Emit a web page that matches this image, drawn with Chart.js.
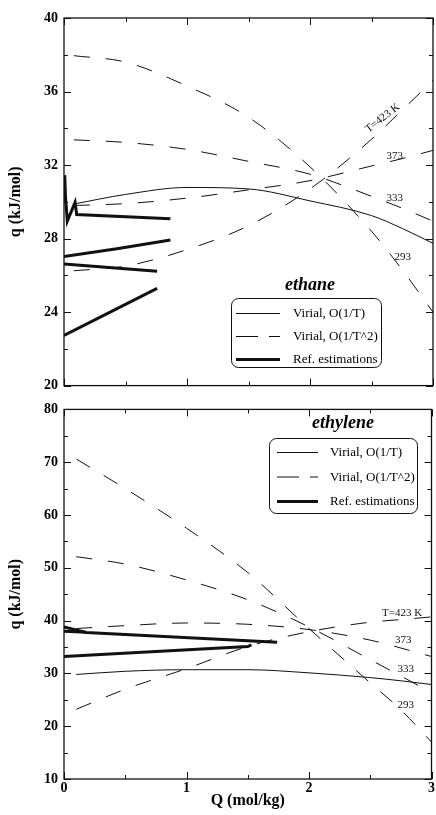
<!DOCTYPE html>
<html><head><meta charset="utf-8">
<script src="https://cdn.jsdelivr.net/npm/chart.js@4.4.1/dist/chart.umd.min.js"></script>
<style>
html,body{margin:0;padding:0;background:#fff;width:436px;height:815px;overflow:hidden}
#top{position:absolute;left:0;top:0;width:436px;height:400px}
#bot{position:absolute;left:0;top:395px;width:436px;height:420px}
</style></head><body>
<div id="top"><canvas id="c1"></canvas></div>
<div id="bot"><canvas id="c2"></canvas></div>
<script>
// ---------------- DATA ----------------
const X_TICKS = [0, 0.5, 1, 1.5, 2, 2.5, 3];
const X_TICK_LABELS = ['0', '', '1', '', '2', '', '3'];
const ETHANE_Y_TICKS = [20, 22, 24, 26, 28, 30, 32, 34, 36, 38, 40];
const ETHANE_Y_LABELS = ['20', '', '24', '', '28', '', '32', '', '36', '', '40'];
const ETHYLENE_Y_TICKS = [10, 15, 20, 25, 30, 35, 40, 45, 50, 55, 60, 65, 70, 75, 80];
const ETHYLENE_Y_LABELS = ['10', '', '20', '', '30', '', '40', '', '50', '', '60', '', '70', '', '80'];

// ethane (top)
const Q_ETHANE = [0.08, 0.5, 1, 1.5, 2, 2.5, 2.75, 3];
const ETHANE_VIRIAL_T = [29.88, 30.4, 30.78, 30.7, 30.05, 29.25, 28.55, 27.74];
const ETHANE_T293 = [37.95, 37.6, 36.3, 34.6, 31.9, 28.4, 26.3, 24.0];
const ETHANE_T333 = [33.37, 33.23, 32.85, 32.2, 31.5, 30.3, 29.65, 28.95];
const ETHANE_T373 = [29.8, 29.9, 30.2, 30.65, 31.15, 31.95, 32.35, 32.8];
const ETHANE_T423 = [26.25, 26.5, 27.4, 28.7, 30.7, 33.4, 35.0, 36.6];
const ETHANE_REF1_Q = [0.0, 0.006, 0.012, 0.027, 0.09, 0.103, 0.865];
const ETHANE_REF1_V = [30.1, 31.45, 30.3, 28.95, 29.97, 29.31, 29.08];
const ETHANE_REF2_Q = [0.0, 0.43, 0.865];
const ETHANE_REF2_V = [27.02, 27.45, 27.92];
const ETHANE_REF3_Q = [0.0, 0.757];
const ETHANE_REF3_V = [26.61, 26.22];
const ETHANE_REF4_Q = [0.0, 0.757];
const ETHANE_REF4_V = [22.73, 25.29];

// ethylene (bottom)
const Q_ETHYLENE = [0.1, 0.5, 1, 1.5, 2, 2.5, 2.75, 3];
const ETHYLENE_VIRIAL_T = [29.8, 30.4, 30.7, 30.7, 30.1, 29.2, 28.6, 27.9];
const ETHYLENE_T293 = [70.6, 65.0, 57.5, 49.1, 38.5, 28.2, 23.1, 17.0];
const ETHYLENE_T333 = [52.1, 50.7, 47.7, 43.95, 38.8, 32.6, 29.5, 26.35];
const ETHYLENE_T373 = [38.5, 39.05, 39.55, 39.3, 38.3, 36.3, 34.8, 33.2];
const ETHYLENE_T423 = [23.2, 27.0, 30.9, 35.1, 37.9, 39.7, 40.2, 40.7];
const ETHYLENE_REF1_Q = [0.0, 0.18, 1.74];
const ETHYLENE_REF1_V = [38.82, 37.76, 35.9];
const ETHYLENE_REF2_Q = [0.0, 0.18];
const ETHYLENE_REF2_V = [38.0, 37.8];
const ETHYLENE_REF3_Q = [0.0, 1.5, 1.53];
const ETHYLENE_REF3_V = [33.2, 35.08, 35.4];

const LEGEND_LABELS = ['Virial, O(1/T)', 'Virial, O(1/T^2)', 'Ref. estimations'];
// ---------------------------------------

const FONT = '"Liberation Serif", "Times New Roman", Times, serif';
const INK = '#111';
const pts = (xs, ys) => xs.map((x, i) => ({x: x, y: ys[i]}));

const STYLE_THIN = {borderColor: INK, borderWidth: 1, pointRadius: 0, fill: false, cubicInterpolationMode: 'monotone'};
const STYLE_DASH = {borderColor: INK, borderWidth: 1, borderDash: [16, 16], pointRadius: 0, fill: false, cubicInterpolationMode: 'monotone'};
const STYLE_THICK = {borderColor: INK, borderWidth: 3, pointRadius: 0, fill: false, tension: 0, borderJoinStyle: 'miter'};

const framePlugin = {
  id: 'frameTicks',
  afterDraw(chart, args, opts) {
    const {ctx, chartArea: a} = chart;
    const xs = chart.scales.x, ys = chart.scales.y;
    ctx.save();
    ctx.strokeStyle = INK;
    ctx.lineWidth = 1;
    X_TICKS.forEach((v, i) => {
      const p = Math.round(xs.getPixelForValue(v)) + 0.5;
      const L = X_TICK_LABELS[i] ? 7 : 4;
      ctx.beginPath();
      ctx.moveTo(p, a.bottom); ctx.lineTo(p, a.bottom - L);
      ctx.moveTo(p, a.top); ctx.lineTo(p, a.top + L);
      ctx.stroke();
    });
    opts.yTicks.forEach((v, i) => {
      const p = Math.round(ys.getPixelForValue(v)) + 0.5;
      const L = opts.yLabels[i] ? 7 : 4;
      ctx.beginPath();
      ctx.moveTo(a.left, p); ctx.lineTo(a.left + L, p);
      ctx.moveTo(a.right, p); ctx.lineTo(a.right - L, p);
      ctx.stroke();
    });
    ctx.lineWidth = 1.3;
    ctx.strokeRect(a.left, a.top, a.right - a.left, a.bottom - a.top);
    ctx.restore();
  }
};

const labelPlugin = {
  id: 'curveLabels',
  afterDatasetsDraw(chart, args, opts) {
    const {ctx} = chart;
    const xs = chart.scales.x, ys = chart.scales.y;
    ctx.save();
    ctx.fillStyle = INK;
    ctx.font = '11px ' + FONT;
    ctx.textAlign = 'center';
    ctx.textBaseline = 'middle';
    opts.items.forEach(it => {
      ctx.save();
      ctx.translate(xs.getPixelForValue(it.x), ys.getPixelForValue(it.y));
      if (it.rot) ctx.rotate(it.rot * Math.PI / 180);
      ctx.fillText(it.text, 0, 0);
      ctx.restore();
    });
    ctx.restore();
  }
};

const legendPlugin = {
  id: 'boxLegend',
  afterDraw(chart, args, o) {
    const {ctx} = chart;
    ctx.save();
    // title
    ctx.fillStyle = '#000';
    ctx.font = 'italic bold 18px ' + FONT;
    ctx.textAlign = 'center';
    ctx.textBaseline = 'middle';
    ctx.fillText(o.title, o.titleX, o.titleY);
    // box
    const [x1, y1, x2, y2] = o.box;
    ctx.strokeStyle = INK;
    ctx.lineWidth = 1;
    ctx.beginPath();
    ctx.roundRect(x1 + 0.5, y1 + 0.5, x2 - x1, y2 - y1, 7);
    ctx.stroke();
    const samples = [
      {w: 1, dash: []},
      {w: 1, dash: [22, 11]},
      {w: 3, dash: []}
    ];
    ctx.font = '13px ' + FONT;
    ctx.textAlign = 'left';
    LEGEND_LABELS.forEach((t, i) => {
      const y = o.rows[i];
      ctx.beginPath();
      ctx.lineWidth = samples[i].w;
      ctx.setLineDash(samples[i].dash);
      ctx.moveTo(o.sample[0], y + 0.5); ctx.lineTo(o.sample[1], y + 0.5);
      ctx.stroke();
      ctx.setLineDash([]);
      ctx.fillText(t, o.textX, y + 1);
    });
    ctx.restore();
  }
};

function makeChart(id, cfg) {
  const datasets = [
    Object.assign({label: LEGEND_LABELS[0], data: pts(cfg.q, cfg.virial)}, STYLE_THIN),
    Object.assign({label: 'T=293', data: pts(cfg.q, cfg.t293)}, STYLE_DASH),
    Object.assign({label: 'T=333', data: pts(cfg.q, cfg.t333)}, STYLE_DASH),
    Object.assign({label: 'T=373', data: pts(cfg.q, cfg.t373)}, STYLE_DASH),
    Object.assign({label: 'T=423', data: pts(cfg.q, cfg.t423)}, STYLE_DASH)
  ];
  cfg.refs.forEach((r, i) => datasets.push(Object.assign({label: 'ref' + i, data: pts(r[0], r[1])}, STYLE_THICK)));
  return new Chart(document.getElementById(id), {
    type: 'line',
    data: {datasets},
    options: {
      responsive: true, maintainAspectRatio: false, animation: false, devicePixelRatio: 1,
      layout: {padding: cfg.padding},
      plugins: {
        legend: {display: false}, tooltip: {enabled: false},
        frameTicks: {yTicks: cfg.yTicks, yLabels: cfg.yLabels},
        curveLabels: {items: cfg.labels},
        boxLegend: cfg.legend
      },
      scales: {
        x: {
          type: 'linear', min: 0, max: 3, display: cfg.showX,
          afterBuildTicks: s => { s.ticks = X_TICKS.map(v => ({value: v})); },
          afterFit: s => { s.height = cfg.xHeight; },
          grid: {display: false, drawTicks: false}, border: {display: false},
          ticks: {autoSkip: false, maxRotation: 0, padding: 1, color: '#000',
            font: {family: FONT, size: 14, weight: 'bold'},
            callback: (v) => X_TICK_LABELS[X_TICKS.indexOf(v)] || ''},
          title: {display: true, text: 'Q (mol/kg)', color: '#000', padding: {top: 0, bottom: 5},
            font: {family: FONT, size: 16, weight: 'bold'}}
        },
        y: {
          type: 'linear', min: cfg.yMin, max: cfg.yMax,
          afterBuildTicks: s => { s.ticks = cfg.yTicks.map(v => ({value: v})); },
          afterFit: s => { s.width = 64; },
          grid: {display: false, drawTicks: false}, border: {display: false},
          ticks: {autoSkip: false, padding: 6, color: '#000',
            font: {family: FONT, size: 14, weight: 'bold'},
            callback: (v) => cfg.yLabels[cfg.yTicks.indexOf(v)] || ''},
          title: {display: true, text: 'q (kJ/mol)', color: '#000', padding: {top: 6, bottom: 0},
            font: {family: FONT, size: 16, weight: 'bold'}}
        }
      }
    },
    plugins: [framePlugin, labelPlugin, legendPlugin]
  });
}

makeChart('c1', {
  q: Q_ETHANE, virial: ETHANE_VIRIAL_T, t293: ETHANE_T293, t333: ETHANE_T333, t373: ETHANE_T373, t423: ETHANE_T423,
  refs: [[ETHANE_REF1_Q, ETHANE_REF1_V], [ETHANE_REF2_Q, ETHANE_REF2_V], [ETHANE_REF3_Q, ETHANE_REF3_V], [ETHANE_REF4_Q, ETHANE_REF4_V]],
  yMin: 20, yMax: 40, yTicks: ETHANE_Y_TICKS, yLabels: ETHANE_Y_LABELS,
  showX: false, xHeight: 0,
  padding: {left: 0, right: 3, top: 18, bottom: 9},
  labels: [
    {x: 2.59, y: 34.55, text: 'T=423 K', rot: -38},
    {x: 2.69, y: 32.5, text: '373'},
    {x: 2.69, y: 30.2, text: '333'},
    {x: 2.755, y: 27.0, text: '293'}
  ],
  legend: {title: 'ethane', titleX: 310, titleY: 285, box: [231, 298, 381, 367],
    rows: [313, 336, 359], sample: [236, 280], textX: 293}
});

makeChart('c2', {
  q: Q_ETHYLENE, virial: ETHYLENE_VIRIAL_T, t293: ETHYLENE_T293, t333: ETHYLENE_T333, t373: ETHYLENE_T373, t423: ETHYLENE_T423,
  refs: [[ETHYLENE_REF1_Q, ETHYLENE_REF1_V], [ETHYLENE_REF2_Q, ETHYLENE_REF2_V], [ETHYLENE_REF3_Q, ETHYLENE_REF3_V]],
  yMin: 10, yMax: 80, yTicks: ETHYLENE_Y_TICKS, yLabels: ETHYLENE_Y_LABELS,
  showX: true, xHeight: 36,
  padding: {left: 0, right: 3, top: 10, bottom: 0},
  labels: [
    {x: 2.76, y: 41.45, text: 'T=423 K'},
    {x: 2.77, y: 36.3, text: '373'},
    {x: 2.79, y: 30.8, text: '333'},
    {x: 2.79, y: 24.0, text: '293'}
  ],
  legend: {title: 'ethylene', titleX: 343, titleY: 28, box: [269, 43, 417, 118],
    rows: [57, 81.5, 106], sample: [277, 318], textX: 330}
});
</script>
</body></html>
